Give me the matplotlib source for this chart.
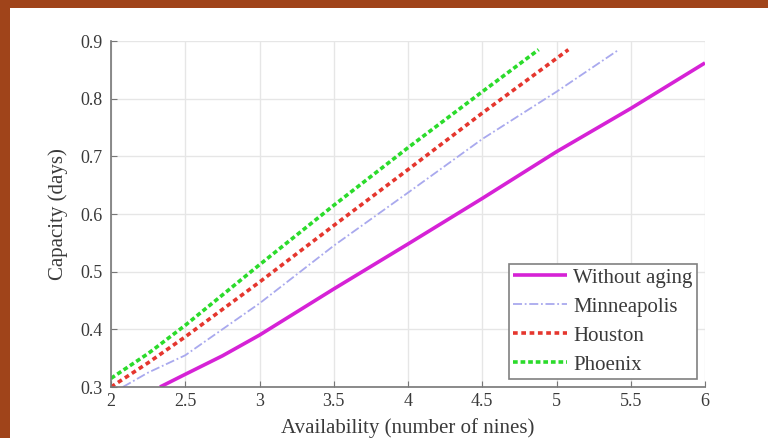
import numpy as np
import matplotlib
matplotlib.use("Agg")
import matplotlib.pyplot as plt
from matplotlib.patches import Rectangle

plt.rcParams['font.family'] = ['Liberation Serif', 'DejaVu Serif']

# Capacity (days) needed vs. availability (number of nines)
x_no_aging = [2.33, 2.5, 2.75, 3.0, 3.5, 4.0, 4.5, 5.0, 5.5, 6.0]
y_no_aging = [0.30, 0.322, 0.354, 0.39, 0.47, 0.548, 0.627, 0.708, 0.783, 0.862]

x_minneapolis = [2.08, 2.25, 2.5, 3.0, 3.5, 4.0, 4.5, 5.0, 5.42]
y_minneapolis = [0.30, 0.325, 0.355, 0.445, 0.545, 0.637, 0.73, 0.812, 0.885]

x_houston = [2.0, 2.25, 2.5, 3.0, 3.5, 4.0, 4.5, 5.08]
y_houston = [0.30, 0.342, 0.387, 0.482, 0.58, 0.677, 0.775, 0.885]

x_phoenix = [2.0, 2.25, 2.5, 3.0, 3.5, 4.0, 4.5, 4.88]
y_phoenix = [0.315, 0.358, 0.407, 0.512, 0.615, 0.715, 0.812, 0.885]

xticks = [2, 2.5, 3, 3.5, 4, 4.5, 5, 5.5, 6]
yticks = [0.3, 0.4, 0.5, 0.6, 0.7, 0.8, 0.9]

fig = plt.figure(figsize=(7.68, 4.38), dpi=100)
fig.patch.set_facecolor('#A0441A')
# white slide panel behind the axes
fig.patches.append(Rectangle((10 / 768, 0), 758 / 768, 430 / 438,
                             transform=fig.transFigure, facecolor='white',
                             edgecolor='none', zorder=-10))

ax = fig.add_axes([111 / 768, 51 / 438, 594 / 768, 346 / 438])
ax.set_facecolor('white')

ax.plot(x_no_aging, y_no_aging, color='#D622D6', lw=2.6, label='Without aging',
        solid_capstyle='butt')
ax.plot(x_minneapolis, y_minneapolis, color='#A9A9EE', lw=1.3,
        linestyle=(0, (5, 1.5, 1, 1.5)), label='Minneapolis')
ax.plot(x_houston, y_houston, color='#E5362E', lw=2.6,
        linestyle=(0, (1.3, 1.0)), label='Houston')
ax.plot(x_phoenix, y_phoenix, color='#2BDB2B', lw=2.6,
        linestyle=(0, (1.3, 0.8)), label='Phoenix')

ax.set_xlim(2, 6)
ax.set_ylim(0.3, 0.9)
ax.set_xticks(xticks)
ax.set_xticklabels(['2', '2.5', '3', '3.5', '4', '4.5', '5', '5.5', '6'])
ax.set_yticks(yticks)
ax.set_yticklabels(['0.3', '0.4', '0.5', '0.6', '0.7', '0.8', '0.9'])
ax.tick_params(direction='in', length=4, color='#777777', labelsize=13,
               labelcolor='#3a3a3a')
ax.tick_params(axis='x', pad=4)
ax.tick_params(axis='y', pad=6)
ax.grid(True, color='#E6E6E6', lw=1.0)
ax.set_axisbelow(True)
for side in ['top', 'right']:
    ax.spines[side].set_visible(False)
for side in ['left', 'bottom']:
    ax.spines[side].set_color('#777777')
    ax.spines[side].set_linewidth(1.2)

ax.set_xlabel('Availability (number of nines)', fontsize=15, color='#3a3a3a',
              labelpad=6)
ax.set_ylabel('Capacity (days)', fontsize=15, color='#3a3a3a', labelpad=9)

leg = ax.legend(loc='lower right', fontsize=15, fancybox=False,
                edgecolor='#808080', framealpha=1, borderaxespad=0.4,
                handlelength=2.6, handletextpad=0.3, labelspacing=0.45,
                borderpad=0.2)
leg.get_frame().set_linewidth(1.2)
for t in leg.get_texts():
    t.set_color('#3a3a3a')

fig.savefig('out.png', dpi=100, facecolor=fig.get_facecolor())
